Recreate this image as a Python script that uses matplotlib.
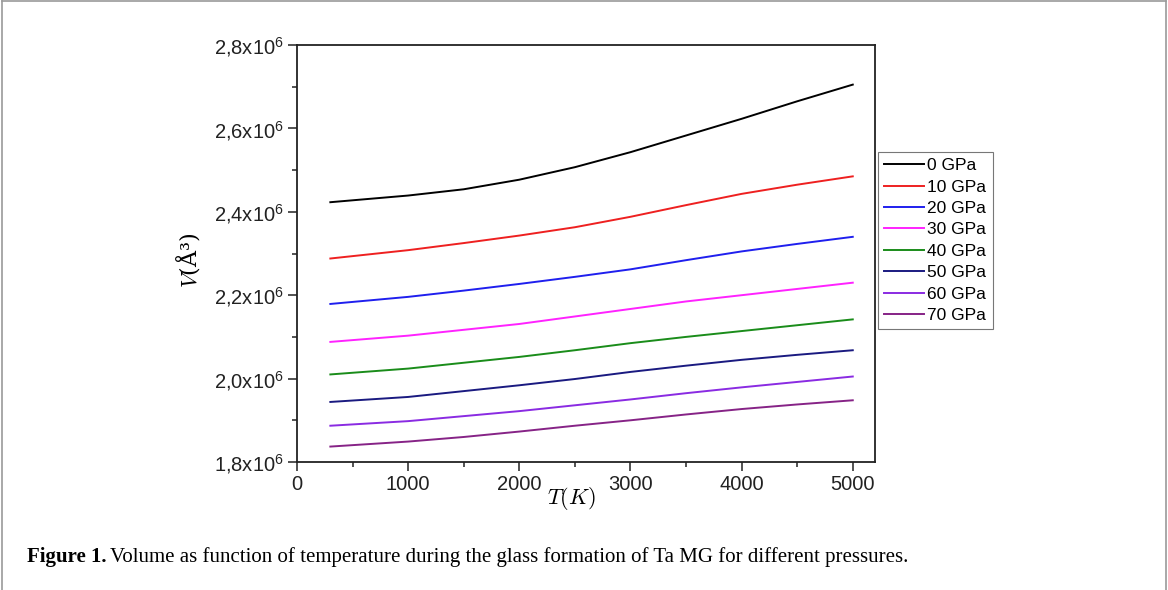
import matplotlib
matplotlib.use("Agg")
import matplotlib.pyplot as plt
from matplotlib.ticker import MultipleLocator, FuncFormatter
from matplotlib.lines import Line2D

# Volume (in units of 1e6 A^3) vs temperature for each pressure
temps = [300, 1000, 1500, 2000, 2500, 3000, 3500, 4000, 4500, 5000]
v_0gpa = [2.423, 2.439, 2.454, 2.477, 2.507, 2.543, 2.583, 2.623, 2.665, 2.705]
v_10gpa = [2.288, 2.308, 2.325, 2.343, 2.363, 2.388, 2.416, 2.443, 2.465, 2.485]
v_20gpa = [2.179, 2.196, 2.211, 2.227, 2.244, 2.262, 2.284, 2.305, 2.323, 2.340]
v_30gpa = [2.088, 2.103, 2.117, 2.131, 2.149, 2.167, 2.185, 2.200, 2.215, 2.230]
v_40gpa = [2.010, 2.024, 2.038, 2.052, 2.068, 2.085, 2.100, 2.114, 2.128, 2.142]
v_50gpa = [1.944, 1.956, 1.970, 1.984, 1.999, 2.016, 2.031, 2.045, 2.057, 2.068]
v_60gpa = [1.887, 1.898, 1.910, 1.922, 1.936, 1.950, 1.965, 1.979, 1.992, 2.005]
v_70gpa = [1.837, 1.849, 1.860, 1.873, 1.887, 1.900, 1.914, 1.927, 1.938, 1.948]

labels = ['0 GPa', '10 GPa', '20 GPa', '30 GPa', '40 GPa', '50 GPa', '60 GPa', '70 GPa']
series = [v_0gpa, v_10gpa, v_20gpa, v_30gpa, v_40gpa, v_50gpa, v_60gpa, v_70gpa]
colors = ['#000000', '#ee2020', '#1f1fee', '#ff22ff', '#1a8c1a', '#1a1a80', '#8a2be2', '#862386']

plt.rcParams['font.family'] = 'Liberation Sans'
plt.rcParams['mathtext.fontset'] = 'custom'
plt.rcParams['mathtext.rm'] = 'Liberation Sans'
plt.rcParams['mathtext.it'] = 'Liberation Sans:italic'

fig = plt.figure(figsize=(11.68, 5.9), dpi=100)
ax = fig.add_axes([297 / 1168, 1 - 462 / 590, 578 / 1168, 417 / 590])

for vals, color, label in zip(series, colors, labels):
    ax.plot(temps, vals, color=color, linewidth=1.4, label=label)

ax.set_xlim(0, 5200)
ax.set_ylim(1.8, 2.8)
ax.xaxis.set_major_locator(MultipleLocator(1000))
ax.xaxis.set_minor_locator(MultipleLocator(500))
ax.yaxis.set_major_locator(MultipleLocator(0.2))
ax.yaxis.set_minor_locator(MultipleLocator(0.1))
ax.yaxis.set_major_formatter(
    FuncFormatter(lambda v, pos: f'{v:.1f}'.replace('.', ',') + r'x10$^{6}$'))

ax.tick_params(which='major', direction='out', length=6.5, width=1.1,
               labelsize=14.5, colors='#222222', pad=3)
ax.tick_params(which='minor', direction='out', length=3.5, width=1.1,
               colors='#222222')
for sp in ax.spines.values():
    sp.set_linewidth(1.3)
    sp.set_color('#222222')

ax.set_xlabel(r'$T(K)$', fontsize=16, math_fontfamily='cm')
ax.xaxis.set_label_coords(0.475, -0.055)
ax.set_ylabel(r'$V$' + '(Å³)', fontsize=16, family='DejaVu Serif',
              math_fontfamily='cm')
ax.yaxis.set_label_coords(-0.165, 0.484)

leg = ax.legend(loc='upper left', bbox_to_anchor=(878 / 1168, 1 - 152 / 590),
                bbox_transform=fig.transFigure, fontsize=12.5, frameon=True,
                fancybox=False, handlelength=2.3, handletextpad=0.2,
                labelspacing=0.36, borderpad=0.35, borderaxespad=0)
leg.get_frame().set_edgecolor('#555555')
leg.get_frame().set_linewidth(0.8)

# caption
cap1 = fig.text(27 / 1168, 1 - 557 / 590, 'Figure 1.', fontsize=15,
                fontweight='bold', family='Liberation Serif', va='center')
fig.canvas.draw()
bb = cap1.get_window_extent()
fig.text((bb.x1 + 4) / fig.bbox.width, 1 - 557 / 590,
         'Volume as function of temperature during the glass formation of Ta MG '
         'for different pressures.', fontsize=15, family='Liberation Serif',
         va='center')

# page frame
for xs, ys in [([0.002, 0.002], [0, 0.998]), ([0.998, 0.998], [0, 0.998]),
               ([0.002, 0.998], [0.998, 0.998])]:
    fig.add_artist(Line2D(xs, ys, color='#999999', linewidth=1.2,
                          transform=fig.transFigure))

fig.savefig('out.png', dpi=100)
